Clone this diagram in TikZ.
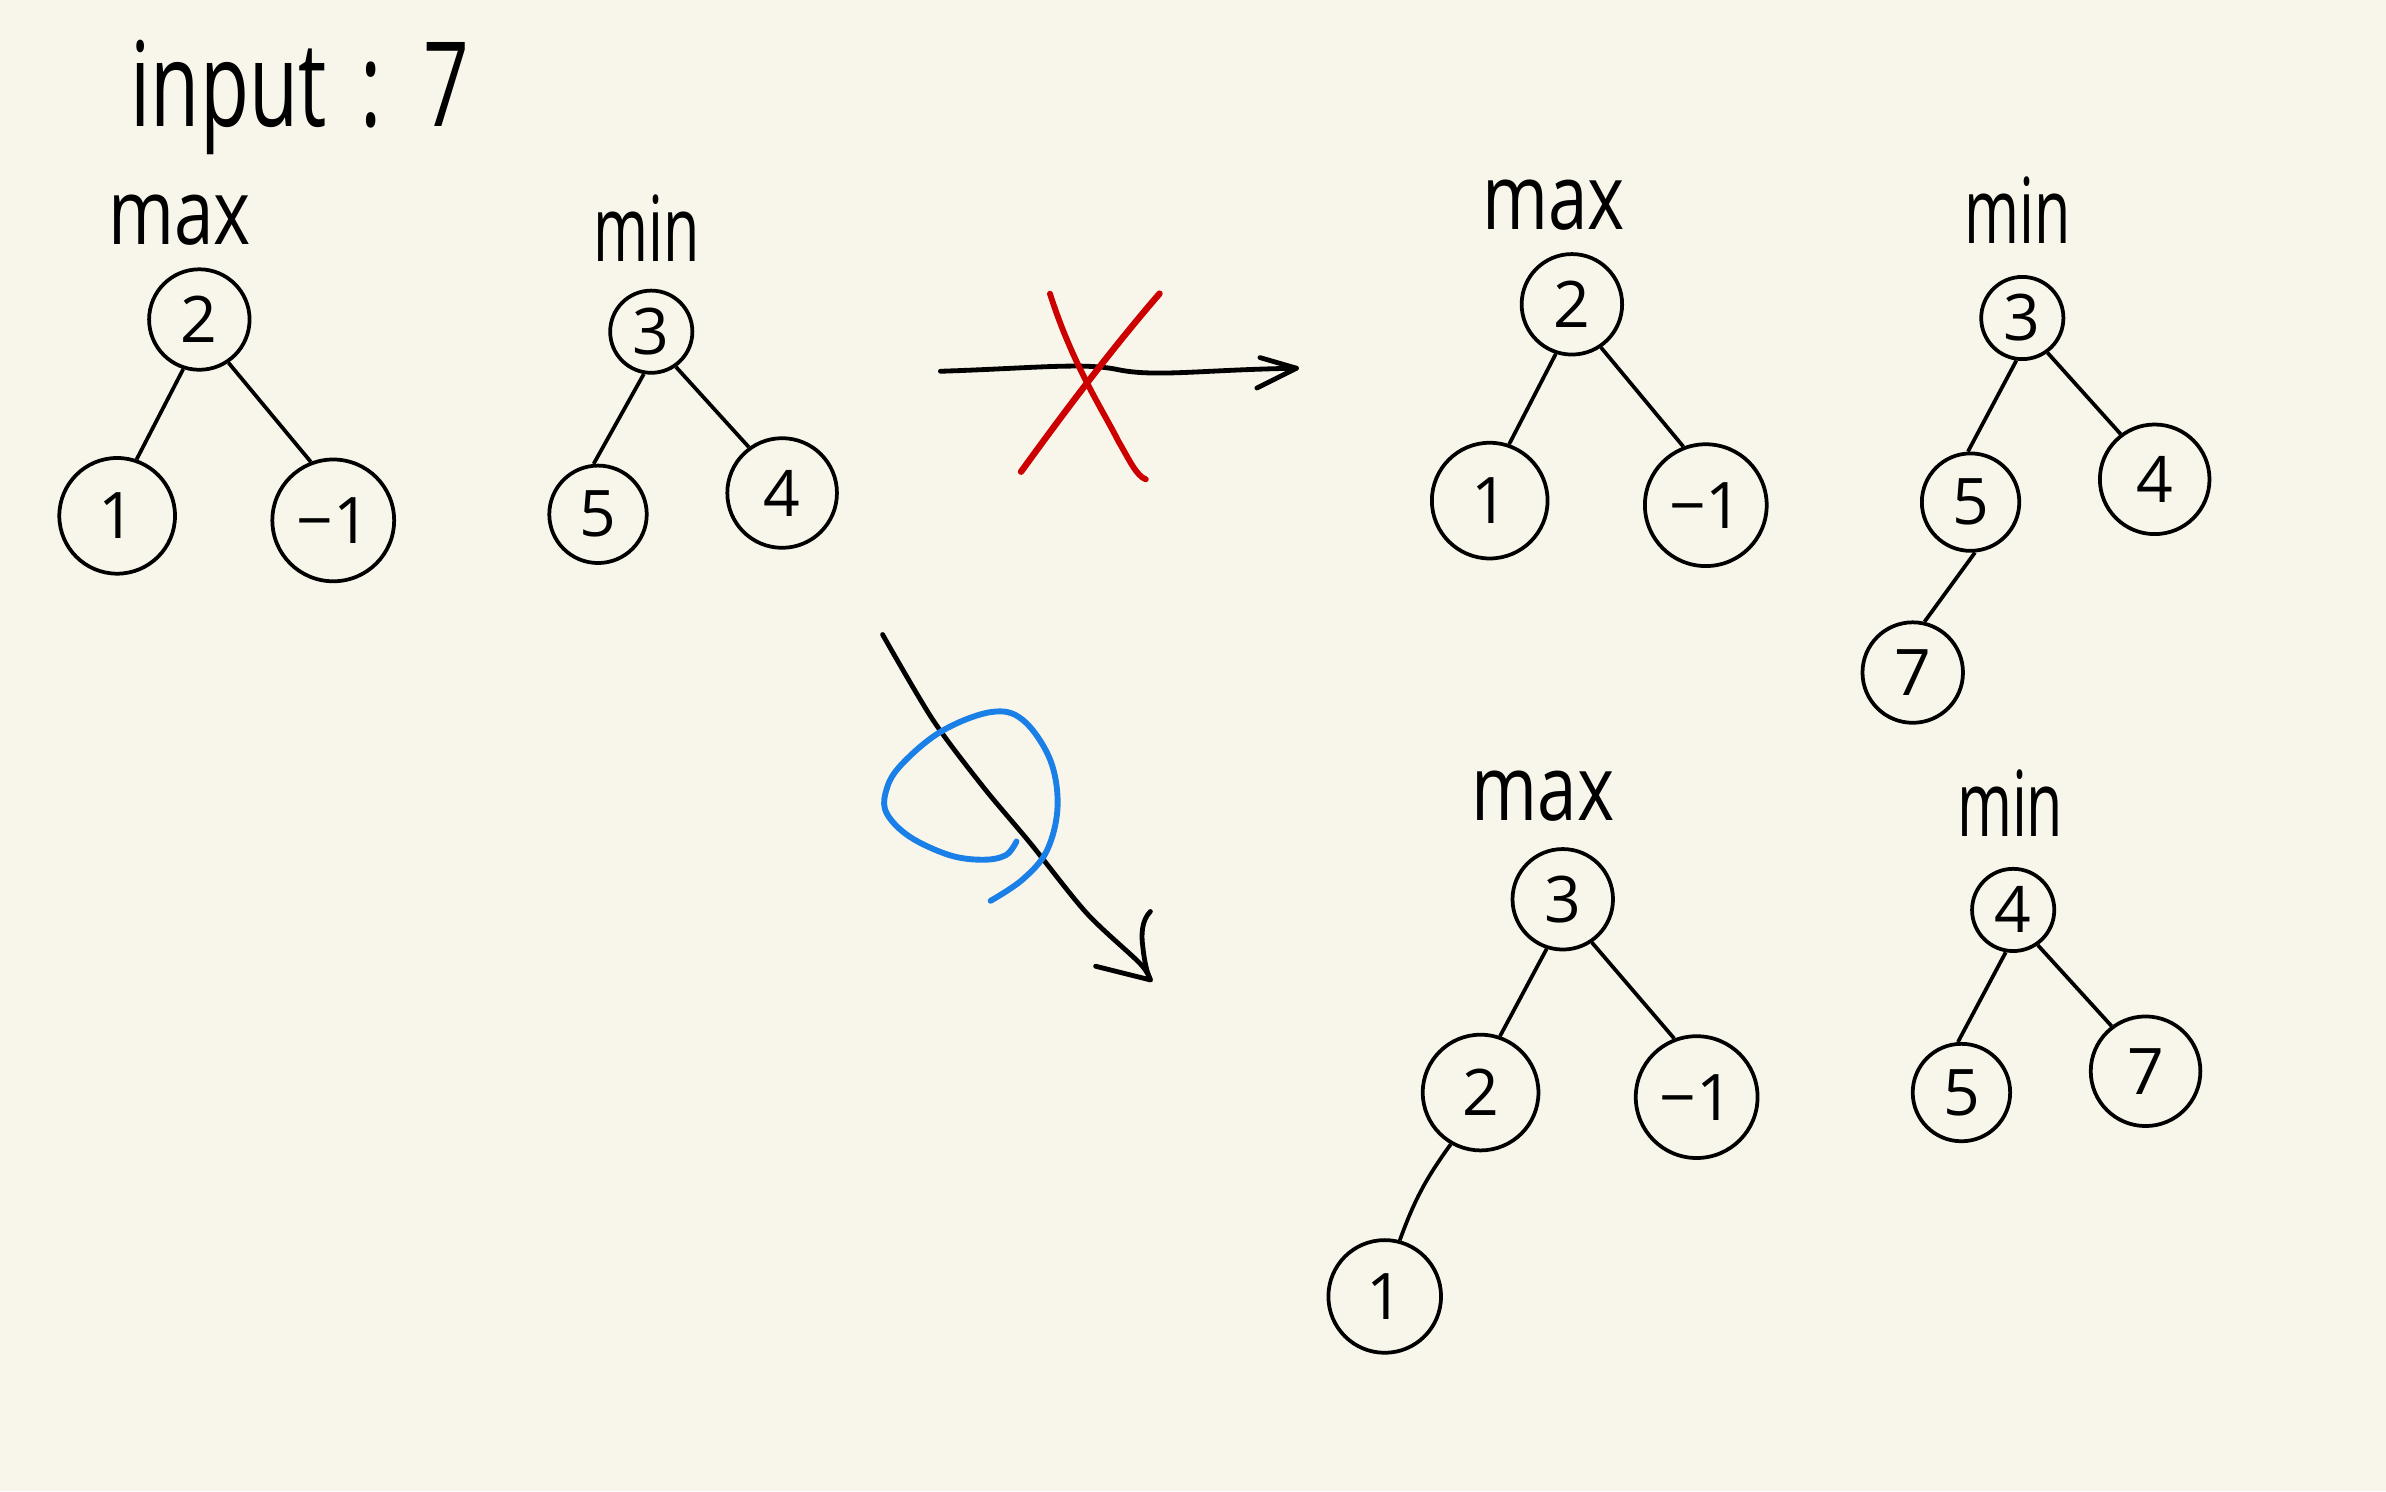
\documentclass[tikz,border=0pt]{standalone}
\usepackage{fontspec}
\setmainfont{Open Sans}
\usetikzlibrary{arrows.meta}
\definecolor{paper}{HTML}{F8F6EA}
\definecolor{xred}{HTML}{CC0000}
\definecolor{loopblue}{HTML}{1A7FE6}
\newcommand{\narrowtxt}[2]{\scalebox{#1}[1]{#2}}
\begin{document}
\begin{tikzpicture}[x=0.01cm,y=-0.01cm,
  nd/.style={circle,draw,line width=0.7pt,inner sep=0pt,minimum size=#1,font=\fontsize{12}{14}\selectfont},
  lbl/.style={font=\fontsize{17}{20}\selectfont,inner sep=0pt},
  edge/.style={line width=0.7pt},
  stroke/.style={line width=0.9pt,line cap=round,line join=round}]
\fill[paper] (0,0) rectangle (1568,980);
\useasboundingbox (0,0) rectangle (1568,980);

% title
\node[font=\fontsize{22}{24}\selectfont,inner sep=0pt] (title) at (197,64) {\narrowtxt{0.68}{input\, :\, 7}};

% tree 1 (max)
\node[lbl] (l1) at (118,145) {\narrowtxt{0.78}{max}};
\node[nd=0.66cm] (a2) at (131,210) {2};
\node[nd=0.76cm] (a1) at (77,339) {1};
\node[nd=0.80cm] (am) at (219,342) {−1};
\draw[edge] (a2.252) -- (a1.71);
\draw[edge] (a2.304) -- (am.111);

% tree 2 (min)
\node[lbl] (l2) at (425,150) {\narrowtxt{0.65}{min}};
\node[nd=0.54cm] (b3) at (428,218) {3};
\node[nd=0.64cm] (b5) at (393,338) {5};
\node[nd=0.72cm] (b4) at (514,324) {4};
\draw[edge] (b3.260) -- (b5.95);
\draw[edge] (b3.305) -- (b4.126);

% crossed-out arrow
\coordinate (h1) at (618,244);
\coordinate (h2) at (852,242);
\draw[stroke] (h1) .. controls (680,242) and (712,238) .. (735,243)
  .. controls (760,248) and (790,243) .. (h2);
\coordinate (hb1) at (828,235);
\coordinate (hb2) at (826,255);
\draw[stroke] (hb1) -- (h2) -- (hb2);
\coordinate (x1a) at (690,193);
\coordinate (x1b) at (753,315);
\coordinate (x2a) at (762,193);
\coordinate (x2b) at (671,310);
\draw[xred,line width=1.1pt,line cap=round] (x1a) .. controls (705,240) and (725,270) .. (735,290) .. controls (742,302) and (747,313) .. (x1b);
\draw[xred,line width=1.2pt,line cap=round] (x2a) .. controls (730,230) and (700,270) .. (x2b);

% tree 3 (max)
\node[lbl] (l3) at (1021,135) {\narrowtxt{0.78}{max}};
\node[nd=0.66cm] (c2) at (1033,200) {2};
\node[nd=0.76cm] (c1) at (979,329) {1};
\node[nd=0.80cm] (cm) at (1121,332) {−1};
\draw[edge] (c2.252) -- (c1.71);
\draw[edge] (c2.304) -- (cm.111);

% tree 4 (min)
\node[lbl] (l4) at (1326,138) {\narrowtxt{0.65}{min}};
\node[nd=0.54cm] (d3) at (1329,209) {3};
\node[nd=0.64cm] (d5) at (1295,330) {5};
\node[nd=0.72cm] (d4) at (1416,315) {4};
\node[nd=0.66cm] (d7) at (1257,442) {7};
\draw[edge] (d3.262) -- (d5.93);
\draw[edge] (d3.306) -- (d4.127);
\draw[edge] (d5.275) -- (d7.77);

% diagonal arrow with blue loop
\coordinate (s1) at (580,417);
\coordinate (s2) at (756,644);
\draw[stroke] plot[smooth,tension=0.5] coordinates {(s1) (613,473) (646,517) (677,554) (714,600) (749,633) (s2)};
\coordinate (sb1) at (756,599);
\coordinate (sb2) at (720,635);
\draw[stroke] (sb1) .. controls (750,605) and (750,615) .. (751,622) .. controls (752,632) and (754,640) .. (s2) -- (sb2);
\draw[loopblue,line width=1.1pt,line cap=round] plot[smooth,tension=0.6] coordinates {
 (668,553) (661,562) (646,565) (624,562) (598,550) (583,535) (582,521) (591,504)
 (618,481) (651,468) (672,473) (690,499) (695,530) (688,559) (672,578) (651,592)};

% tree 5 (max)
\node[lbl] (l5) at (1014,523) {\narrowtxt{0.78}{max}};
\node[nd=0.66cm] (e3) at (1027,591) {3};
\node[nd=0.76cm] (e2) at (973,718) {2};
\node[nd=0.80cm] (em) at (1115,721) {−1};
\node[nd=0.74cm] (e1) at (910,852) {1};
\draw[edge] (e3.252) -- (e2.71);
\draw[edge] (e3.304) -- (em.111);
\draw[edge] (e2.240) to[bend right=8] (e1.75);

% tree 6 (min)
\node[lbl] (l6) at (1321,528) {\narrowtxt{0.65}{min}};
\node[nd=0.54cm] (f4) at (1323,598) {4};
\node[nd=0.64cm] (f5) at (1289,718) {5};
\node[nd=0.72cm] (f7) at (1410,704) {7};
\draw[edge] (f4.260) -- (f5.94);
\draw[edge] (f4.305) -- (f7.127);
\end{tikzpicture}
\end{document}
